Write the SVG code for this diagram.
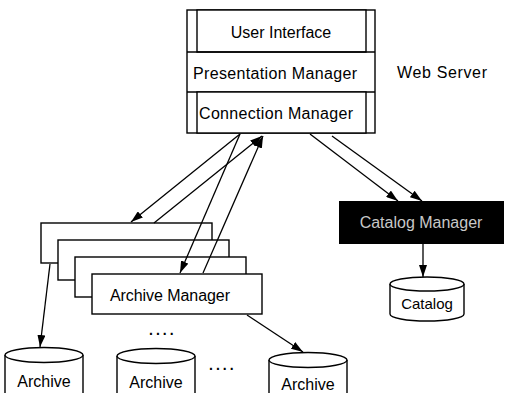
<svg xmlns="http://www.w3.org/2000/svg" width="505" height="393" viewBox="0 0 505 393">
<style>
.b{fill:#fff;stroke:#000;stroke-width:1.4}
.t{font-family:"Liberation Sans",Arial,sans-serif;font-size:16px;fill:#000}
.m{text-anchor:middle}
.c{fill:none;stroke:#000;stroke-width:1.3}
.d{font-family:"Liberation Sans",Arial,sans-serif;font-size:14px;font-weight:bold;letter-spacing:3px;fill:#000}
</style>
<defs>
<marker id="ah" viewBox="0 0 12 8" refX="12" refY="4" markerWidth="12" markerHeight="8" markerUnits="userSpaceOnUse" orient="auto">
<path d="M0,0 L12,4 L0,8 Z" fill="#000"/>
</marker>
</defs>
<rect width="505" height="393" fill="#fff"/>

<g id="web-server">
<rect class="b" x="187" y="10" width="188" height="123"/>
<rect class="b" x="197" y="10" width="169" height="42"/>
<line class="c" x1="187" y1="52" x2="375" y2="52"/>
<line class="c" x1="187" y1="92" x2="375" y2="92"/>
<rect class="b" x="197" y="92" width="169" height="41"/>
<text class="t m" x="281" y="38">User Interface</text>
<text class="t" x="193" y="79" textLength="164">Presentation Manager</text>
<text class="t" x="199" y="119" textLength="154">Connection Manager</text>
</g>
<g id="web-server-label">
<text class="t" x="397" y="78" textLength="90">Web Server</text>
</g>

<g id="archive-managers">
<rect class="b" x="41" y="223" width="171" height="40"/>
<rect class="b" x="58" y="240" width="171" height="40"/>
<rect class="b" x="75" y="257" width="171" height="40"/>
<rect class="b" x="92" y="274" width="170" height="40"/>
<text class="t" x="110" y="301" textLength="120">Archive Manager</text>
</g>

<g id="catalog-manager">
<rect x="339" y="201" width="165" height="43" fill="#000"/>
<text class="t m" x="421" y="228" style="fill:#c8c8c8">Catalog Manager</text>
</g>

<g id="catalog">
<path class="b" d="M390,284 L390,314 A37,7 0 0 0 464,314 L464,284"/>
<ellipse class="b" cx="427" cy="284" rx="37" ry="7"/>
<text class="t m" x="427" y="309" style="font-size:15px">Catalog</text>
</g>

<g id="archive-1">
<path class="b" d="M5,355 L5,400 L83,400 L83,355"/>
<ellipse class="b" cx="44" cy="355" rx="39" ry="7.5"/>
<text class="t m" x="44" y="387">Archive</text>
</g>
<g id="archive-2">
<path class="b" d="M117,356 L117,400 L195,400 L195,356"/>
<ellipse class="b" cx="156" cy="356" rx="39" ry="7.5"/>
<text class="t m" x="156" y="388">Archive</text>
</g>
<g id="archive-3">
<path class="b" d="M269,360 L269,400 L347,400 L347,360"/>
<ellipse class="b" cx="308" cy="360" rx="39" ry="7.5"/>
<text class="t m" x="308" y="390">Archive</text>
</g>

<g id="ellipses">
<text class="d" x="149" y="335">....</text>
<text class="d" x="209" y="370">....</text>
</g>

<g id="connectors">
<line class="c" x1="240" y1="134" x2="131" y2="222" marker-end="url(#ah)"/>
<line class="c" x1="240" y1="134" x2="180" y2="273" marker-end="url(#ah)"/>
<line class="c" x1="154" y1="223" x2="262" y2="136" marker-end="url(#ah)"/>
<line class="c" x1="203" y1="273" x2="263" y2="136" marker-end="url(#ah)"/>
<line class="c" x1="310" y1="134" x2="398" y2="201" marker-end="url(#ah)"/>
<line class="c" x1="332" y1="136" x2="422" y2="201" marker-end="url(#ah)"/>
<line class="c" x1="423" y1="244" x2="423" y2="277" marker-end="url(#ah)"/>
<line class="c" x1="50" y1="264" x2="40" y2="347" marker-end="url(#ah)"/>
<line class="c" x1="247" y1="315" x2="303" y2="352" marker-end="url(#ah)"/>
</g>
</svg>
